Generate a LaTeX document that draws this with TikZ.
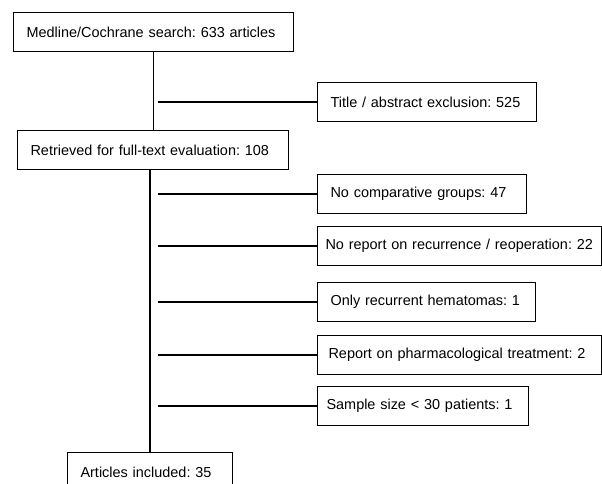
\documentclass[tikz,border=0pt]{standalone}
\usepackage{fontspec}
\setmainfont{Liberation Sans}
\begin{document}
\begin{tikzpicture}[x=1bp, y=-1bp,
    caja/.style={draw, line width=1.1bp, anchor=west, minimum height=39bp,
        inner xsep=13bp, align=left, font=\fontsize{14.5}{17}\selectfont\frenchspacing},
    rama/.style={line width=1.8bp}]
    \useasboundingbox (0,0) rectangle (602,484);

    % Cajas principales
    \node[caja, text width=254bp] (busqueda) at (13,32) {Medline/Cochrane search: 633 articles};
    \node[caja, text width=245bp] (revision) at (17,150) {Retrieved for full-text evaluation: 108};
    \node[caja, text width=139bp] (incluidos) at (67,472) {Articles included: 35};

    % Cajas de exclusion
    \node[caja, text width=193bp] (titulo) at (317,102) {Title / abstract exclusion: 525};
    \node[caja, text width=183bp] (grupos) at (317,194) {No comparative groups: 47};
    \node[caja, text width=268bp, inner xsep=8bp] (recidiva) at (317,246) {No report on recurrence / reoperation: 22};
    \node[caja, text width=192bp] (hematomas) at (317,302) {Only recurrent hematomas: 1};
    \node[caja, text width=262bp, inner xsep=11bp] (farmaco) at (317,355) {Report on pharmacological treatment: 2};
    \node[caja, text width=193bp, inner xsep=9bp] (muestra) at (317,406) {Sample size < 30 patients: 1};

    % Tronco vertical
    \draw[rama] (busqueda.south) -- (busqueda.south |- revision.north);
    \draw[rama] (incluidos.north |- revision.south) -- (incluidos.north);

    % Ramas
    \coordinate (toma) at (158,0);
    \draw[rama] (toma |- titulo.west) -- (titulo.west);
    \draw[rama] (toma |- grupos.west) -- (grupos.west);
    \draw[rama] (toma |- recidiva.west) -- (recidiva.west);
    \draw[rama] (toma |- hematomas.west) -- (hematomas.west);
    \draw[rama] (toma |- farmaco.west) -- (farmaco.west);
    \draw[rama] (toma |- muestra.west) -- (muestra.west);
\end{tikzpicture}
\end{document}
